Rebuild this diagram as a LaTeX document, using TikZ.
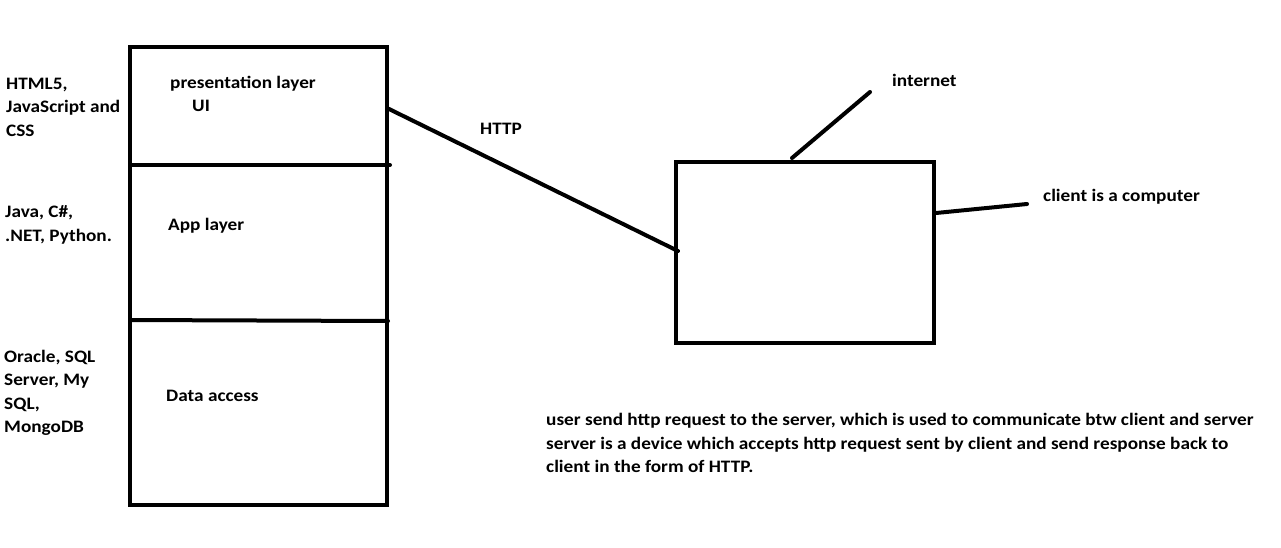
\documentclass[tikz,border=0pt]{standalone}
\usepackage{fontspec}
\setmainfont{Carlito}[FakeStretch=1.1]
\usetikzlibrary{positioning}

\tikzset{
  box/.style={draw,line width=4pt,rectangle,inner sep=0pt},
  wire/.style={line width=4pt,line cap=round},
  lbl/.style={font=\fontsize{17.5}{23.5}\selectfont\bfseries,inner sep=0pt,align=left,anchor=west}
}

\begin{document}
\begin{tikzpicture}[x=1pt,y=-1pt]
        \useasboundingbox (0,0) rectangle (1281,547);
        % the three layers
        \node[box,minimum width=257pt,minimum height=458pt] (stack) at (258.5,276) {};
        \coordinate (d1l) at (130,165);
        \coordinate (d1r) at (390,165);
        \coordinate (d2l) at (130,320);
        \coordinate (d2r) at (388,321);
        \draw[wire] (d1l) -- (d1r);
        \draw[wire] (d2l) -- (d2r);
        \node[lbl] (pres) at (170,84) {presentation layer};
        \node[lbl] (ui) at (192,106) {UI};
        \node[lbl] (app) at (168,226) {App layer};
        \node[lbl] (data) at (166,396) {Data access};
        \node[lbl] (web) at (6,107) {HTML5,\\JavaScript and\\CSS};
        \node[lbl] (lang) at (5,225) {Java, C\#,\\.NET, Python.};
        \node[lbl] (db) at (4,393) {Oracle, SQL\\Server, My\\SQL,\\MongoDB};
        % client
        \node[box,minimum width=258pt,minimum height=181pt] (client) at (805,252.5) {};
        \coordinate (h1) at (387,108);
        \coordinate (h2) at (678,251);
        \draw[wire] (h1) -- (h2);
        \node[lbl] (http) at (480,129) {HTTP};
        \coordinate (i1) at (792,158);
        \coordinate (i2) at (870,92);
        \draw[wire] (i1) -- (i2);
        \node[lbl] (inet) at (892,80) {internet};
        \coordinate (c1) at (936,213);
        \coordinate (c2) at (1027,204);
        \draw[wire] (c1) -- (c2);
        \node[lbl] (cpu) at (1043,197) {client is a computer};
        \node[lbl] (note) at (546,443) {user send http request to the server, which is used to communicate btw client and server\\server is a device which accepts http request sent by client and send response back to\\client in the form of HTTP.};
\end{tikzpicture}
\end{document}
